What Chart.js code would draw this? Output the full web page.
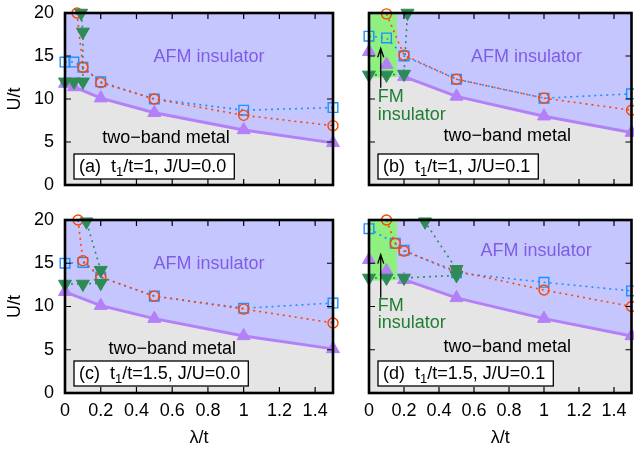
<!DOCTYPE html>
<html>
<head>
<meta charset="utf-8">
<script src="https://cdn.jsdelivr.net/npm/chart.js@4.4.1/dist/chart.umd.min.js"></script>
<style>
  html, body { margin: 0; padding: 0; background: #fff; }
  body { width: 634px; height: 450px; overflow: hidden; position: relative; }
  canvas { position: absolute; }
</style>
</head>
<body>
<canvas id="pa" width="345" height="200" style="left:0;top:0"></canvas>
<canvas id="pb" width="300" height="200" style="left:340px;top:0"></canvas>
<canvas id="pc" width="345" height="250" style="left:0;top:200px"></canvas>
<canvas id="pd" width="300" height="250" style="left:340px;top:200px"></canvas>
<script>
const xTicks = [0, 0.2, 0.4, 0.6, 0.8, 1, 1.2, 1.4];
const yTicks = [0, 5, 10, 15, 20];

// (a) t1/t=1, J/U=0.0
const aTriX = [0, 0.05, 0.2, 0.5, 1, 1.5];
const aTriU = [11.8, 11.4, 10.1, 8.4, 6.4, 4.9];
const aInvX = [0, 0.05, 0.1, 0.1, 0.09];
const aInvU = [12, 12, 12, 17.8, 20];
const aCircX = [0.067, 0.1, 0.2, 0.5, 1, 1.5];
const aCircU = [20, 13.7, 11.9, 10, 8.1, 6.9];
const aSqX = [0, 0.05, 0.1, 0.2, 0.5, 1, 1.5];
const aSqU = [14.3, 14.3, 13.7, 12, 10, 8.7, 9.0];

// (b) t1/t=1, J/U=0.1
const bTriX = [0, 0.1, 0.2, 0.5, 1, 1.5];
const bTriU = [12.5, 12.5, 12.6, 10.3, 8.0, 6.1];
const bFmTriX = [0, 0.1];
const bFmTriU = [15.5, 14.0];
const bInvX = [0, 0.1, 0.2, 0.22];
const bInvU = [12.8, 12.8, 12.9, 20];
const bCircX = [0.1, 0.2, 0.5, 1, 1.5];
const bCircU = [19.9, 15.1, 12.3, 10.1, 8.7];
const bSqX = [0, 0.1, 0.2, 0.5, 1, 1.5];
const bSqU = [17.3, 17.1, 15.0, 12.3, 10.1, 10.6];

// (c) t1/t=1.5, J/U=0.0
const cTriX = [0, 0.2, 0.5, 1, 1.5];
const cTriU = [11.7, 10.1, 8.6, 6.6, 5.1];
const cInvX = [0, 0.1, 0.2, 0.2, 0.12];
const cInvU = [12.6, 12.6, 12.7, 14.2, 19.8];
const cCircX = [0.073, 0.1, 0.2, 0.5, 1, 1.5];
const cCircU = [20, 15.3, 13.4, 11.2, 9.7, 8.1];
const cSqX = [0, 0.1, 0.2, 0.5, 1, 1.5];
const cSqU = [15.0, 15.1, 13.4, 11.2, 9.8, 10.4];

// (d) t1/t=1.5, J/U=0.1
const dTriX = [0, 0.1, 0.2, 0.5, 1, 1.5];
const dTriU = [13.0, 13.0, 13.1, 11.0, 8.6, 6.6];
const dFmTriX = [0, 0.1];
const dFmTriU = [15.4, 14.1];
const dInvX = [0, 0.1, 0.2, 0.5, 0.5, 0.32];
const dInvU = [13.3, 13.3, 13.3, 13.6, 14.3, 19.8];
const dCircX = [0.1, 0.15, 0.2, 0.5, 1, 1.5];
const dCircU = [20, 17.3, 16.4, 14.1, 11.9, 10.0];
const dSqX = [0, 0.15, 0.2, 0.5, 1, 1.5];
const dSqU = [19.0, 17.3, 16.5, 13.9, 12.8, 11.8];

const fmEdge = 0.16;

const FONT = '"Liberation Sans", Arial, Helvetica, sans-serif';
const purple = '#b380f7';
const lavender = '#c6c6ff';
const grey = '#e5e5e5';
const fmGreen = '#8fef7f';
const dkGreen = '#2e8b57';
const red = '#ff4500';
const blue = '#1e90ff';

function pts(xs, us) { return xs.map((x, i) => ({ x: x, y: us[i] })); }

// background, frame, inward ticks, labels
const panelDeco = {
  id: 'panelDeco',
  beforeDatasetsDraw(chart) {
    const { ctx, chartArea: a } = chart;
    ctx.save();
    ctx.fillStyle = lavender;
    ctx.fillRect(a.left, a.top, a.width, a.height);
    ctx.restore();
  },
  afterDatasetsDraw(chart, args, o) {
    const { ctx, chartArea: a, scales: { x, y } } = chart;
    ctx.save();
    ctx.strokeStyle = '#000';
    ctx.lineWidth = 1.2;
    ctx.beginPath();
    xTicks.forEach(v => {
      const px = x.getPixelForValue(v);
      ctx.moveTo(px, a.bottom); ctx.lineTo(px, a.bottom - 6);
      ctx.moveTo(px, a.top); ctx.lineTo(px, a.top + 6);
    });
    yTicks.forEach(v => {
      const py = y.getPixelForValue(v);
      ctx.moveTo(a.left, py); ctx.lineTo(a.left + 6, py);
      ctx.moveTo(a.right, py); ctx.lineTo(a.right - 6, py);
    });
    ctx.stroke();
    ctx.lineWidth = 2.6;
    ctx.strokeRect(a.left, a.top, a.width, a.height);

    ctx.font = '18px ' + FONT;
    ctx.textAlign = 'center';
    ctx.textBaseline = 'middle';
    ctx.fillStyle = '#7f5ce8';
    ctx.fillText('AFM insulator', x.getPixelForValue(o.afm[0]), y.getPixelForValue(o.afm[1]));
    ctx.fillStyle = '#000';
    ctx.fillText('two\u2212band metal', x.getPixelForValue(o.metal[0]), y.getPixelForValue(o.metal[1]));

    if (o.fm) {
      ctx.textAlign = 'left';
      ctx.fillStyle = '#1f7f30';
      ctx.fillText('FM', x.getPixelForValue(o.fm[0]), y.getPixelForValue(o.fm[1]));
      ctx.fillText('insulator', x.getPixelForValue(o.fm[0]), y.getPixelForValue(o.fm[2]));
      // arrow
      const ax = x.getPixelForValue(o.arrow[0]);
      const y0 = y.getPixelForValue(o.arrow[1]);
      const y1 = y.getPixelForValue(o.arrow[2]);
      ctx.strokeStyle = '#000';
      ctx.lineWidth = 1.3;
      ctx.beginPath();
      ctx.moveTo(ax, y0); ctx.lineTo(ax, y1);
      ctx.moveTo(ax - 3, y1 + 9); ctx.lineTo(ax, y1); ctx.lineTo(ax + 3, y1 + 9);
      ctx.stroke();
    }

    // key box
    const pre = o.tag + '  t', sub = '1', post = o.key;
    ctx.font = '18px ' + FONT;
    const w1 = ctx.measureText(pre).width, w3 = ctx.measureText(post).width;
    ctx.font = '13px ' + FONT;
    const w2 = ctx.measureText(sub).width;
    const bx = a.left + 9, by = a.top + 141, bw = w1 + w2 + w3 + 13, bh = 25;
    ctx.fillStyle = '#fff';
    ctx.fillRect(bx, by, bw, bh);
    ctx.strokeStyle = '#000';
    ctx.lineWidth = 1.3;
    ctx.strokeRect(bx, by, bw, bh);
    ctx.fillStyle = '#000';
    ctx.textAlign = 'left';
    ctx.textBaseline = 'middle';
    const ty = by + bh / 2 + 1;
    ctx.font = '18px ' + FONT;
    ctx.fillText(pre, bx + 5, ty);
    ctx.font = '13px ' + FONT;
    ctx.fillText(sub, bx + 5 + w1, ty + 5);
    ctx.font = '18px ' + FONT;
    ctx.fillText(post, bx + 5 + w1 + w2, ty);
    ctx.restore();
  }
};

function makePanel(id, p) {
  const datasets = [];
  if (p.fm) {
    datasets.push({
      data: [{ x: 0, y: 20 }, { x: fmEdge, y: 20 }],
      showLine: true, borderWidth: 0, borderColor: 'transparent',
      pointRadius: 0, fill: 'start', backgroundColor: fmGreen, order: 6
    });
  }
  const edgeN = p.edgeN || 0;
  datasets.push({
    data: pts(p.triX, p.triU),
    showLine: true, borderColor: purple, borderWidth: 3,
    fill: 'start', backgroundColor: grey,
    pointStyle: 'triangle', pointRadius: ctx => ctx.dataIndex < edgeN ? 0 : 7.5,
    pointBackgroundColor: purple, pointBorderColor: purple, pointBorderWidth: 1,
    segment: { borderColor: ctx => ctx.p1DataIndex <= edgeN ? 'transparent' : purple },
    order: 5
  });
  if (p.fmTriX) {
    datasets.push({
      data: pts(p.fmTriX, p.fmTriU), showLine: false,
      pointStyle: 'triangle', pointRadius: 7.5,
      pointBackgroundColor: purple, pointBorderColor: purple, pointBorderWidth: 1,
      order: 4
    });
  }
  datasets.push({
    data: pts(p.sqX, p.sqU), showLine: true,
    borderColor: blue, borderWidth: 1.6, borderDash: [2, 4], fill: false,
    pointStyle: 'rect', pointRadius: 6.8, pointBackgroundColor: 'transparent',
    pointBorderColor: blue, pointBorderWidth: 1.4, order: 3
  });
  datasets.push({
    data: pts(p.circX, p.circU), showLine: true,
    borderColor: red, borderWidth: 1.6, borderDash: [2, 4], fill: false,
    pointStyle: 'circle', pointRadius: 5, pointBackgroundColor: 'transparent',
    pointBorderColor: red, pointBorderWidth: 1.4, order: 2
  });
  datasets.push({
    data: pts(p.invX, p.invU), showLine: true,
    borderColor: dkGreen, borderWidth: 1.6, borderDash: [2, 4], fill: false,
    pointStyle: 'triangle', rotation: 180, pointRadius: 7.5,
    pointBackgroundColor: dkGreen, pointBorderColor: dkGreen, pointBorderWidth: 1, order: 1
  });

  new Chart(document.getElementById(id).getContext('2d'), {
    type: 'scatter',
    data: { datasets: datasets },
    options: {
      responsive: false,
      animation: false,
      clip: false,
      layout: { padding: { top: p.padTop, right: p.padRight, left: 0, bottom: 0 } },
      plugins: {
        legend: { display: false },
        tooltip: { enabled: false },
        panelDeco: p.deco
      },
      scales: {
        x: {
          type: 'linear', min: 0, max: 1.5,
          afterFit: s => { s.height = p.xh; s.paddingLeft = 0; s.paddingRight = 0; },
          grid: { display: false, drawTicks: false },
          border: { display: false },
          ticks: {
            display: p.bottom, stepSize: 0.2, includeBounds: false, autoSkip: false,
            maxRotation: 0, padding: 7, color: '#000',
            font: { size: 18, family: FONT },
            callback: v => String(+v.toFixed(1))
          },
          title: {
            display: p.bottom, text: 'λ/t', color: '#000',
            font: { size: 18, family: FONT }, padding: { top: 0, bottom: 1 }
          }
        },
        y: {
          type: 'linear', min: 0, max: 20,
          afterFit: s => { s.width = p.yw; s.paddingTop = 0; s.paddingBottom = 0; },
          grid: { display: false, drawTicks: false },
          border: { display: false },
          ticks: {
            display: p.left, stepSize: 5, padding: 11, color: '#000',
            font: { size: 18, family: FONT }
          },
          title: {
            display: p.left, text: 'U/t', color: '#000',
            font: { size: 18, family: FONT }, padding: { top: 4, bottom: 4 }
          }
        }
      }
    },
    plugins: [panelDeco]
  });
}

makePanel('pa', {
  triX: aTriX, triU: aTriU, invX: aInvX, invU: aInvU,
  circX: aCircX, circU: aCircU, sqX: aSqX, sqU: aSqU,
  left: true, bottom: false, yw: 65, xh: 15, padTop: 13, padRight: 12,
  deco: { tag: '(a)', key: '/t=1, J/U=0.0', afm: [0.806, 14.9], metal: [0.565, 5.5] }
});
makePanel('pb', {
  triX: bTriX, triU: bTriU, edgeN: 2, fmTriX: bFmTriX, fmTriU: bFmTriU, fm: true,
  invX: bInvX, invU: bInvU, circX: bCircX, circU: bCircU, sqX: bSqX, sqU: bSqU,
  left: false, bottom: false, yw: 29, xh: 15, padTop: 13, padRight: 3,
  deco: { tag: '(b)', key: '/t=1, J/U=0.1', afm: [0.9, 14.9], metal: [0.79, 5.7],
          fm: [0.05, 10.2, 8.1], arrow: [0.067, 11.3, 15.9] }
});
makePanel('pc', {
  triX: cTriX, triU: cTriU, invX: cInvX, invU: cInvU,
  circX: cCircX, circU: cCircU, sqX: cSqX, sqU: cSqU,
  left: true, bottom: true, yw: 65, xh: 57, padTop: 20, padRight: 12,
  deco: { tag: '(c)', key: '/t=1.5, J/U=0.0', afm: [0.806, 14.9], metal: [0.6, 5.1] }
});
makePanel('pd', {
  triX: dTriX, triU: dTriU, edgeN: 2, fmTriX: dFmTriX, fmTriU: dFmTriU, fm: true,
  invX: dInvX, invU: dInvU, circX: dCircX, circU: dCircU, sqX: dSqX, sqU: dSqU,
  left: false, bottom: true, yw: 29, xh: 57, padTop: 20, padRight: 3,
  deco: { tag: '(d)', key: '/t=1.5, J/U=0.1', afm: [0.955, 16.4], metal: [0.79, 5.3],
          fm: [0.05, 10.0, 8.1], arrow: [0.067, 11.0, 16.0] }
});
</script>
</body>
</html>
